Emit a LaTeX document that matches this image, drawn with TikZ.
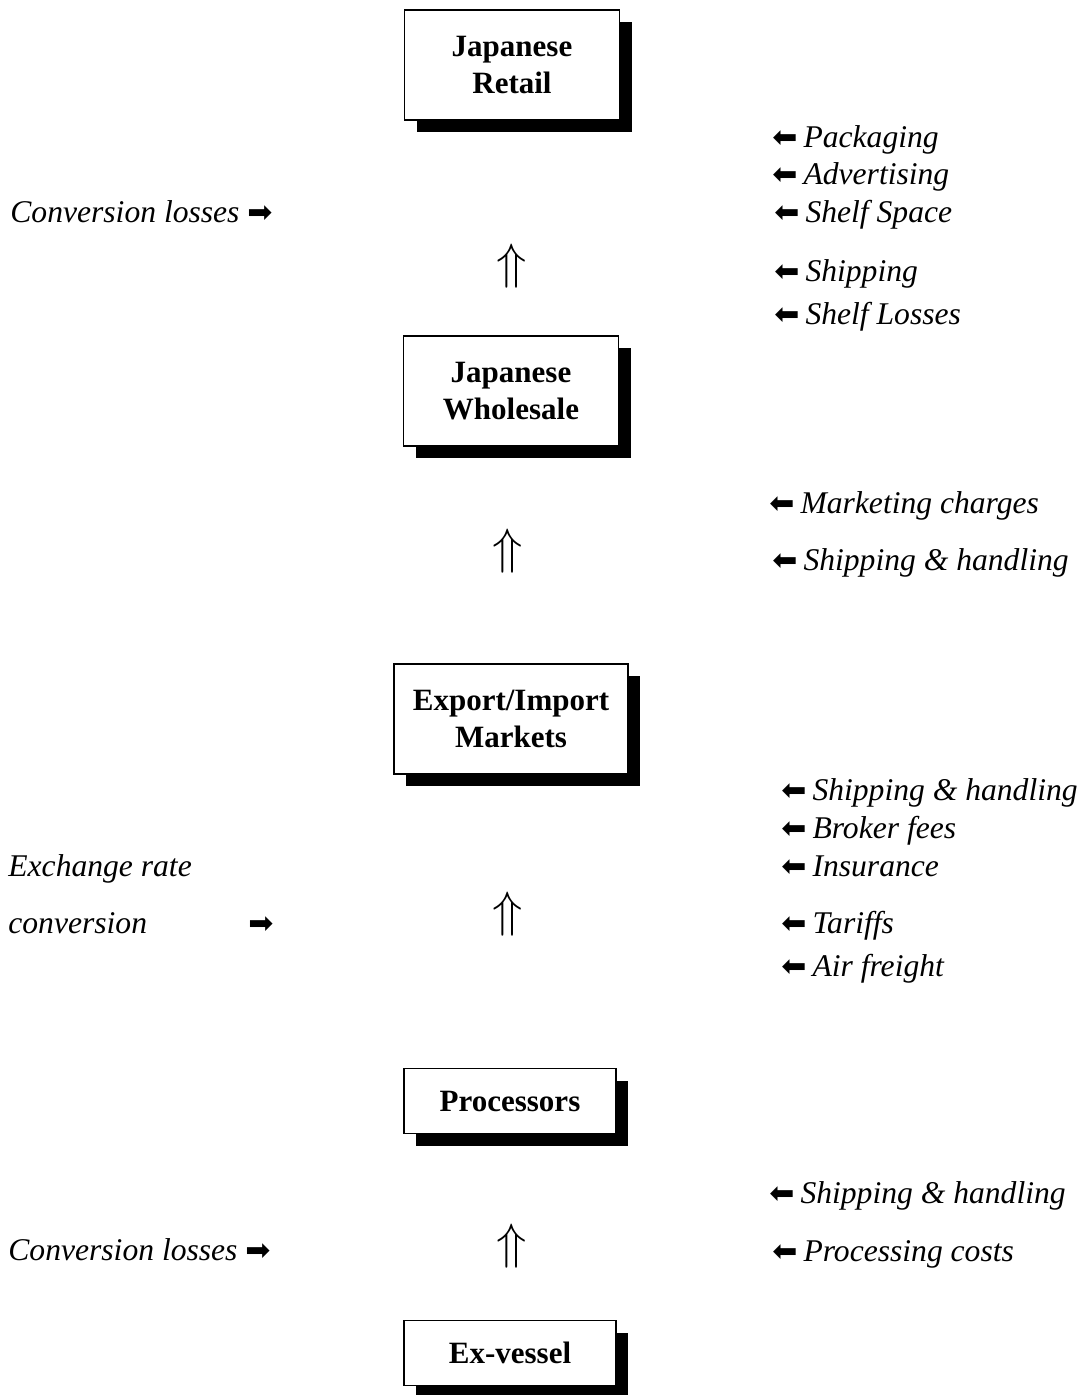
\documentclass[tikz,border=0pt]{standalone}
\usepackage{fontspec}
\setmainfont{Liberation Serif}
\newfontfamily\symfont{DejaVu Sans}
\usetikzlibrary{shadows}

\newcommand{\costin}{{\symfont\fontsize{15}{15}\selectfont ⬅}\hspace{3pt}}
\newcommand{\costout}{{\symfont\fontsize{15}{15}\selectfont ➡}}

\begin{document}
\begin{tikzpicture}[x=0.5pt,y=-0.5pt,
  main node/.style={draw,line width=0.9pt,fill=white,align=center,
    font=\fontsize{15.5}{18.5}\selectfont\bfseries,
    minimum width=107.5pt,minimum height=55pt,
    drop shadow={shadow xshift=6pt,shadow yshift=-6pt,fill=black,opacity=1}},
  cost/.style={anchor=base west,inner sep=0pt,font=\fontsize{15.8}{18}\selectfont\itshape},
  up node/.style={font=\fontsize{24}{24}\selectfont}]

  \useasboundingbox (0,0) rectangle (1089,1395);

  \node[main node] (1) at (512,65) {Japanese\\Retail};
  \node[main node] (2) at (511,391) {Japanese\\Wholesale};
  \node[main node,minimum width=117pt] (3) at (511,719) {Export/Import\\Markets};
  \node[main node,minimum width=106pt,minimum height=32.5pt] (4) at (510,1101) {Processors};
  \node[main node,minimum width=106pt,minimum height=32.5pt] (5) at (510,1353) {Ex-vessel};

  \node[up node] (a) at (512,266) {$\Uparrow$};
  \node[up node] (b) at (508,551) {$\Uparrow$};
  \node[up node] (c) at (508,914) {$\Uparrow$};
  \node[up node] (d) at (512,1246) {$\Uparrow$};

  % costs added on the right
  \node[cost] (1t1) at (772,148) {\costin Packaging};
  \node[cost] (1t2) at (772,185) {\costin Advertising};
  \node[cost] (1t3) at (774,223) {\costin Shelf Space};
  \node[cost] (1t4) at (774,282) {\costin Shipping};
  \node[cost] (1t5) at (774,325) {\costin Shelf Losses};
  \node[cost] (2t1) at (769,513) {\costin Marketing charges};
  \node[cost] (2t2) at (772,570) {\costin Shipping \& handling};
  \node[cost] (3t1) at (781,800) {\costin Shipping \& handling};
  \node[cost] (3t2) at (781,838) {\costin Broker fees};
  \node[cost] (3t3) at (781,876) {\costin Insurance};
  \node[cost] (3t4) at (781,933) {\costin Tariffs};
  \node[cost] (3t5) at (781,976) {\costin Air freight};
  \node[cost] (4t1) at (769,1203) {\costin Shipping \& handling};
  \node[cost] (4t2) at (772,1261) {\costin Processing costs};

  % losses on the left
  \node[cost] (1l) at (10,223) {Conversion losses \costout};
  \node[cost] (3l1) at (8,876) {Exchange rate};
  \node[cost] (3l2) at (8,933) {conversion};
  \node[cost] (3l3) at (248,933) {\costout};
  \node[cost] (4l) at (8,1260) {Conversion losses \costout};
\end{tikzpicture}
\end{document}
